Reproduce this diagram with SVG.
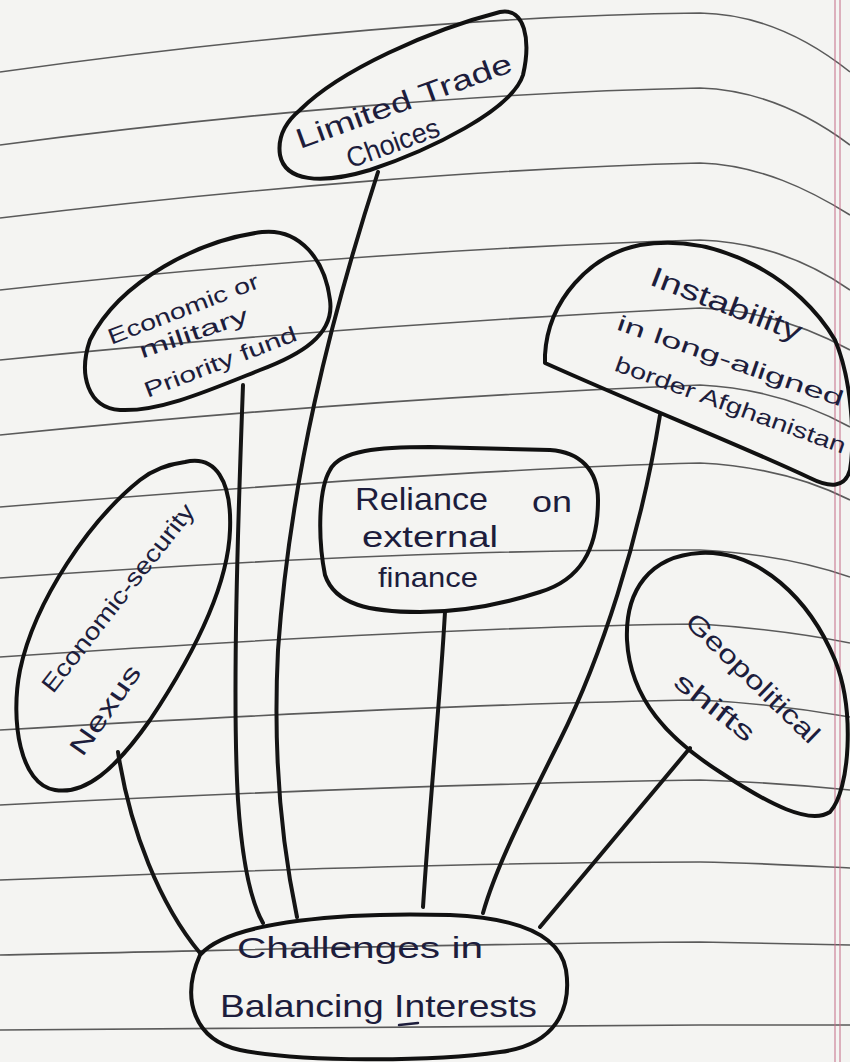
<svg xmlns="http://www.w3.org/2000/svg" width="850" height="1062" viewBox="0 0 850 1062">
<style>
.rule{fill:none;stroke:#5a5a5a;stroke-width:1.6}
.margin{fill:none;stroke:#c46a86;stroke-width:1}
.shape{fill:none;stroke:#111;stroke-width:4;stroke-linejoin:round}
.conn{fill:none;stroke:#151515;stroke-width:4;stroke-linecap:round}
.t{font-family:"Liberation Sans","Noto Sans",sans-serif;fill:#1d1d3c}
</style>
<rect width="850" height="1062" fill="#f4f4f2"/>
<g id="paper">
<path class="rule" d="M0,72 C250,37 500,15 700,13 C760,14 810,40 850,72"/>
<path class="rule" d="M0,145 C250,112 500,92 700,88 C760,90 810,115 850,145"/>
<path class="rule" d="M0,218 C250,188 500,168 700,163 C760,165 810,190 850,215"/>
<path class="rule" d="M0,290 C250,262 500,246 700,240 C760,242 810,262 850,290"/>
<path class="rule" d="M0,360 C250,335 500,318 700,308 C760,310 810,328 850,350"/>
<path class="rule" d="M0,435 C250,410 500,393 700,385 C760,388 810,405 850,427"/>
<path class="rule" d="M0,507 C250,487 500,468 700,463 C760,466 810,480 850,500"/>
<path class="rule" d="M0,578 C250,560 500,549 700,550 C760,553 810,563 850,577"/>
<path class="rule" d="M0,657 C250,640 500,626 700,624 C760,628 810,635 850,643"/>
<path class="rule" d="M0,730 C250,715 500,703 700,700 C760,703 810,710 850,717"/>
<path class="rule" d="M0,805 C250,792 500,783 700,780 C760,782 810,786 850,790"/>
<path class="rule" d="M0,880 C250,870 500,862 700,862 C760,863 810,866 850,868"/>
<path class="rule" d="M0,955 C250,950 500,943 700,942 C760,943 810,944 850,945"/>
<path class="rule" d="M0,1030 C250,1028 500,1025 700,1025 C760,1025 810,1025 850,1025"/>
<line class="margin" x1="835" y1="0" x2="835" y2="1062"/>
<line class="margin" x1="840" y1="0" x2="840" y2="1062"/>
</g>
<g id="connectors">
<path class="conn" d="M118,752 C130,830 160,905 200,953"/>
<path class="conn" d="M243,385 C238,520 232,700 238,800 C242,860 250,900 263,923"/>
<path class="conn" d="M378,172 C330,320 290,480 278,650 C272,770 285,860 297,917"/>
<path class="conn" d="M445,612 C440,700 430,800 423,907"/>
<path class="conn" d="M660,415 C640,540 600,660 560,740 C520,820 495,870 483,913"/>
<path class="conn" d="M690,748 L540,927"/>
</g>
<g id="limited-trade">
<path class="shape" d="M300,110 C340,70 430,30 500,12 C525,7 531,40 523,75 C512,110 430,150 370,170 C320,185 285,181 280,155 C277,135 288,120 300,110 Z"/>
<text class="t" font-size="28" text-anchor="middle" textLength="228" lengthAdjust="spacingAndGlyphs" transform="translate(407,110) rotate(-20)">Limited  Trade</text>
<text class="t" font-size="28" text-anchor="middle" textLength="97" lengthAdjust="spacingAndGlyphs" transform="translate(396,152) rotate(-20)">Choices</text>
</g>
<g id="economic-military">
<path class="shape" d="M90,340 C120,280 200,240 262,232 C300,228 325,260 330,300 C335,335 300,355 260,370 C210,390 160,412 120,410 C88,408 78,375 90,340 Z"/>
<text class="t" font-size="22" text-anchor="middle" textLength="160" lengthAdjust="spacingAndGlyphs" transform="translate(186,316) rotate(-21)">Economic  or</text>
<text class="t" font-size="22" text-anchor="middle" textLength="114" lengthAdjust="spacingAndGlyphs" transform="translate(196,340) rotate(-19)">military</text>
<text class="t" font-size="22" text-anchor="middle" textLength="162" lengthAdjust="spacingAndGlyphs" transform="translate(223,369) rotate(-21)">Priority fund</text>
</g>
<g id="instability">
<path class="shape" d="M545,355 C548,300 590,255 640,245 C720,232 800,280 835,340 C852,380 855,440 850,470 C845,488 830,488 810,478 C740,445 650,410 545,363 Z"/>
<text class="t" font-size="28" text-anchor="middle" textLength="160" lengthAdjust="spacingAndGlyphs" transform="translate(723,313) rotate(21)">Instability</text>
<text class="t" font-size="22" text-anchor="middle" textLength="238" lengthAdjust="spacingAndGlyphs" transform="translate(728,368) rotate(19)">in   long-aligned</text>
<text class="t" font-size="22" text-anchor="middle" textLength="244" lengthAdjust="spacingAndGlyphs" transform="translate(728,412) rotate(20)">border Afghanistan</text>
</g>
<g id="nexus">
<path class="shape" d="M185,462 C215,455 232,480 230,530 C228,590 190,660 150,720 C115,770 85,795 55,790 C20,785 10,720 20,670 C35,600 90,520 140,480 C155,468 170,464 185,462 Z"/>
<text class="t" font-size="24" text-anchor="middle" textLength="232" lengthAdjust="spacingAndGlyphs" transform="translate(118,598) rotate(-52)" dy="8">Economic-security</text>
<text class="t" font-size="26" text-anchor="middle" textLength="104" lengthAdjust="spacingAndGlyphs" transform="translate(105,710) rotate(-55)" dy="9">Nexus</text>
</g>
<g id="reliance">
<path class="shape" d="M330,470 C340,450 380,447 430,447 L550,450 C580,452 598,470 598,500 C598,550 580,580 540,592 C500,605 460,612 420,612 C370,612 335,605 325,575 C318,540 318,490 330,470 Z"/>
<text class="t" font-size="32" x="355" y="510" textLength="133" lengthAdjust="spacingAndGlyphs">Reliance</text>
<text class="t" font-size="30" x="532" y="512" textLength="40" lengthAdjust="spacingAndGlyphs">on</text>
<text class="t" font-size="30" x="362" y="547" textLength="136" lengthAdjust="spacingAndGlyphs">external</text>
<text class="t" font-size="28" x="378" y="587" textLength="100" lengthAdjust="spacingAndGlyphs">finance</text>
</g>
<g id="geopolitical">
<path class="shape" d="M700,553 C760,550 810,600 835,660 C855,710 850,790 830,812 C810,825 770,805 720,772 C670,740 630,700 627,640 C625,590 650,556 700,553 Z"/>
<text class="t" font-size="26" text-anchor="middle" textLength="175" lengthAdjust="spacingAndGlyphs" transform="translate(753,678) rotate(44)" dy="9">Geopolitical</text>
<text class="t" font-size="26" text-anchor="middle" textLength="95" lengthAdjust="spacingAndGlyphs" transform="translate(715,707) rotate(38)" dy="9">shifts</text>
</g>
<g id="challenges">
<path class="shape" d="M200,955 C230,920 350,912 450,915 C520,918 560,935 566,970 C572,1010 555,1045 500,1052 C430,1062 300,1062 240,1050 C195,1040 180,1000 200,955 Z"/>
<text class="t" font-size="30" x="237" y="958" textLength="246" lengthAdjust="spacingAndGlyphs">Challenges  in</text>
<text class="t" font-size="32" x="220" y="1017" textLength="317" lengthAdjust="spacingAndGlyphs">Balancing  Interests</text>
<line x1="399" y1="1025" x2="418" y2="1023" stroke="#1d1d3c" stroke-width="2.5" stroke-linecap="round"/>
</g>
</svg>
